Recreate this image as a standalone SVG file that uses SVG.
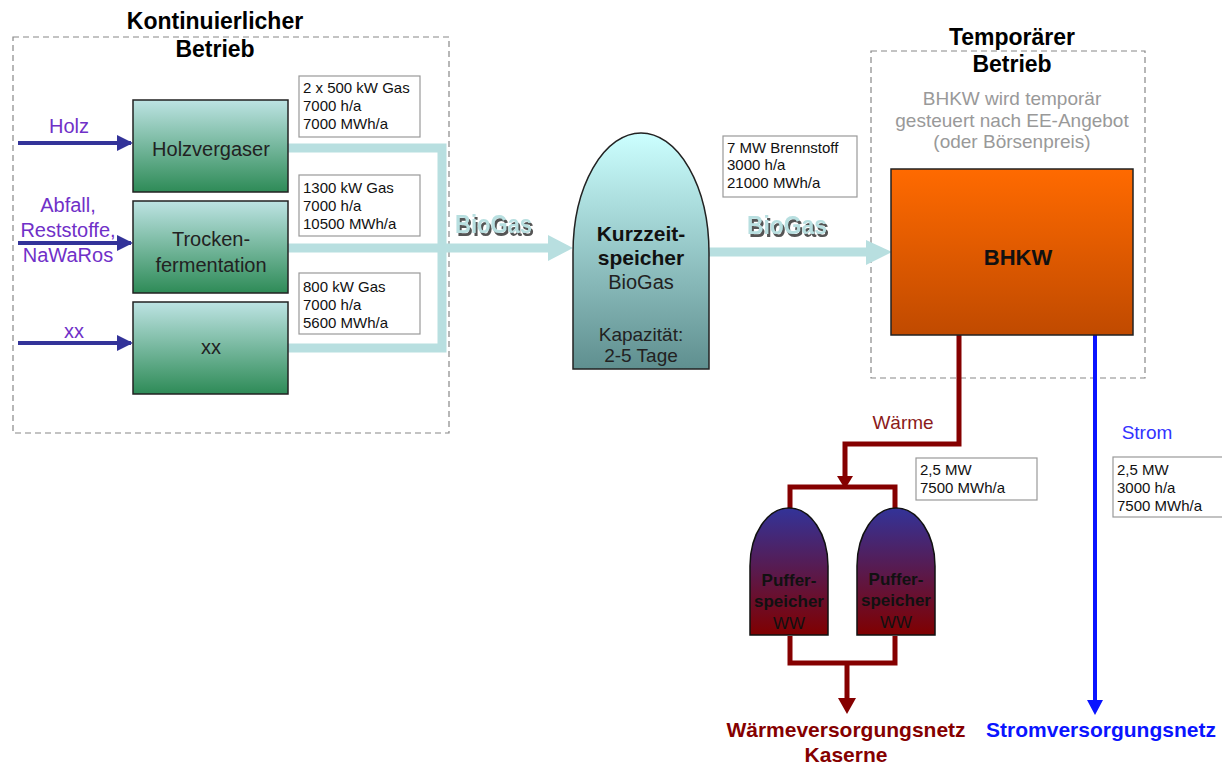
<svg xmlns="http://www.w3.org/2000/svg" width="1222" height="766" viewBox="0 0 1222 766">
<defs>
<linearGradient id="gGreen" x1="0" y1="0" x2="0" y2="1"><stop offset="0" stop-color="#bde3e3"/><stop offset="1" stop-color="#2e8b57"/></linearGradient>
<linearGradient id="gTank" x1="0" y1="0" x2="0" y2="1"><stop offset="0" stop-color="#ccffff"/><stop offset="1" stop-color="#5f8f8f"/></linearGradient>
<linearGradient id="gOrange" x1="0" y1="0" x2="0" y2="1"><stop offset="0" stop-color="#ff6a00"/><stop offset="1" stop-color="#c04a00"/></linearGradient>
<linearGradient id="gPuffer" x1="0" y1="0" x2="0" y2="1"><stop offset="0" stop-color="#333399"/><stop offset="1" stop-color="#800000"/></linearGradient>
<marker id="mBlue" markerWidth="4" markerHeight="4" refX="3.5" refY="2" orient="auto" markerUnits="strokeWidth"><path d="M0,0 L4,2 L0,4 Z" fill="#333399"/></marker>
<filter id="shadow" x="-10%" y="-20%" width="130%" height="150%">
<feFlood flood-color="#555555" result="c"/>
<feComposite in="c" in2="SourceAlpha" operator="in" result="s"/>
<feOffset in="s" dx="2" dy="3" result="o"/>
<feMerge><feMergeNode in="o"/><feMergeNode in="SourceGraphic"/></feMerge>
</filter>
</defs>
<style>
text{font-family:"Liberation Sans",Arial,sans-serif}
.dash{fill:none;stroke:#888;stroke-width:1.2;stroke-dasharray:6 4}
.title{font-size:23px;font-weight:bold;fill:#000;text-anchor:middle}
.box{stroke:#222;stroke-width:1.5;fill:url(#gGreen)}
.blbl{font-size:20px;fill:#222;text-anchor:middle}
.in{font-size:20px;fill:#7030c8;text-anchor:middle}
.info{fill:#fff;stroke:#999;stroke-width:1.2}
.itxt{font-size:15px;fill:#111}
.pipe{fill:none;stroke:#b8dfe0;stroke-width:9}
.heat{fill:none;stroke:#850000;stroke-width:5}
.bg{font-size:25px;font-weight:bold;fill:#b8dfe0;filter:url(#shadow)}
.pf{font-size:17px;text-anchor:middle;fill:#111}
</style>

<rect class="dash" x="13" y="37" width="436" height="396"/>
<text class="title" x="215" y="29">Kontinuierlicher</text>
<text class="title" x="215" y="57">Betrieb</text>

<rect class="dash" x="871" y="51" width="274" height="327"/>
<text class="title" x="1012" y="45">Temporärer</text>
<text class="title" x="1012" y="72">Betrieb</text>
<g fill="#999" font-size="19" text-anchor="middle">
<text x="1012" y="105">BHKW wird temporär</text>
<text x="1012" y="127">gesteuert nach EE-Angebot</text>
<text x="1012" y="148">(oder Börsenpreis)</text>
</g>

<g id="connectors">
<path class="pipe" d="M288,148 H442 V348 H288"/>
<path class="pipe" d="M288,248 H550"/>
<polygon points="548,235 573,248 548,261" fill="#b8dfe0"/>
<path class="pipe" d="M709,252 H868"/>
<polygon points="866,240 892,252 866,265" fill="#b8dfe0"/>
<g stroke="#333399" stroke-width="4" fill="none">
<path d="M18,143 H131" marker-end="url(#mBlue)"/>
<path d="M18,243 H131" marker-end="url(#mBlue)"/>
<path d="M18,343 H131" marker-end="url(#mBlue)"/>
</g>
<path class="heat" d="M959,335 V444 H845 V478"/>
<polygon points="837,476 853,476 845,489" fill="#850000"/>
<path class="heat" d="M790,510 V487 H895 V510"/>
<path class="heat" d="M790,636 V663 H895 V636"/>
<path class="heat" d="M847,663 V700"/>
<polygon points="838,698 856,698 847,714" fill="#850000"/>
<path d="M1095,335 V702" stroke="#0a14ff" stroke-width="4" fill="none"/>
<polygon points="1087,700 1103,700 1095,715" fill="#0a14ff"/>
</g>

<g id="biogas-labels">
<text class="bg" x="455" y="233" textLength="77" lengthAdjust="spacingAndGlyphs">BioGas</text>
<text class="bg" x="747" y="234" textLength="80" lengthAdjust="spacingAndGlyphs">BioGas</text>
</g>

<g id="inputs">
<text class="in" x="69" y="133">Holz</text>
<text class="in" x="68" y="212">Abfall,</text>
<text class="in" x="68" y="237">Reststoffe,</text>
<text class="in" x="68" y="262">NaWaRos</text>
<text class="in" x="74" y="338">xx</text>
</g>

<g id="holzvergaser">
<rect class="box" x="133" y="100" width="155" height="92"/>
<text class="blbl" x="211" y="156">Holzvergaser</text>
</g>
<g id="trockenfermentation">
<rect class="box" x="133" y="201" width="155" height="92"/>
<text class="blbl" x="211" y="246">Trocken-</text>
<text class="blbl" x="211" y="272">fermentation</text>
</g>
<g id="xx">
<rect class="box" x="133" y="302" width="155" height="92"/>
<text class="blbl" x="211" y="354">xx</text>
</g>

<g id="info1">
<rect class="info" x="299" y="76" width="121" height="61"/>
<text class="itxt" x="303" y="93">2 x 500 kW Gas</text>
<text class="itxt" x="303" y="111">7000 h/a</text>
<text class="itxt" x="303" y="129">7000 MWh/a</text>
</g>
<g id="info2">
<rect class="info" x="299" y="175" width="121" height="61"/>
<text class="itxt" x="303" y="193">1300 kW Gas</text>
<text class="itxt" x="303" y="211">7000 h/a</text>
<text class="itxt" x="303" y="229">10500 MWh/a</text>
</g>
<g id="info3">
<rect class="info" x="299" y="273" width="121" height="61"/>
<text class="itxt" x="303" y="292">800 kW Gas</text>
<text class="itxt" x="303" y="310">7000 h/a</text>
<text class="itxt" x="303" y="328">5600 MWh/a</text>
</g>

<g id="kurzzeitspeicher">
<path d="M573,369 L573,253 A68,120 0 0 1 709,253 L709,369 Z" fill="url(#gTank)" stroke="#222" stroke-width="1.5"/>
<text x="641" y="241" font-size="21" font-weight="bold" text-anchor="middle" fill="#111">Kurzzeit-</text>
<text x="641" y="265" font-size="21" font-weight="bold" text-anchor="middle" fill="#111">speicher</text>
<text x="641" y="289" font-size="20" text-anchor="middle" fill="#222">BioGas</text>
<text x="641" y="341" font-size="19" text-anchor="middle" fill="#222">Kapazität:</text>
<text x="641" y="362" font-size="19" text-anchor="middle" fill="#222">2-5 Tage</text>
</g>

<g id="info4">
<rect class="info" x="723" y="136" width="134" height="61"/>
<text class="itxt" x="727" y="153">7 MW Brennstoff</text>
<text class="itxt" x="727" y="170">3000 h/a</text>
<text class="itxt" x="727" y="188">21000 MWh/a</text>
</g>

<g id="bhkw">
<rect x="891" y="169" width="242" height="166" fill="url(#gOrange)" stroke="#222" stroke-width="1.5"/>
<text x="1018" y="265" font-size="22" font-weight="bold" text-anchor="middle" fill="#111">BHKW</text>
</g>

<text x="903" y="429" font-size="19" text-anchor="middle" fill="#8b1a1a">Wärme</text>
<text x="1147" y="439" font-size="19" text-anchor="middle" fill="#3333ff">Strom</text>

<g id="info5">
<rect class="info" x="916" y="458" width="121" height="42"/>
<text class="itxt" x="920" y="475">2,5 MW</text>
<text class="itxt" x="920" y="493">7500 MWh/a</text>
</g>
<g id="info6">
<rect class="info" x="1113" y="457" width="112" height="60"/>
<text class="itxt" x="1117" y="475">2,5 MW</text>
<text class="itxt" x="1117" y="493">3000 h/a</text>
<text class="itxt" x="1117" y="511">7500 MWh/a</text>
</g>

<g id="puffer1">
<path d="M750,635 L750,566 A39,58 0 0 1 828,566 L828,635 Z" fill="url(#gPuffer)" stroke="#111" stroke-width="1.5"/>
<text class="pf" x="789" y="586" font-weight="bold">Puffer-</text>
<text class="pf" x="789" y="607" font-weight="bold">speicher</text>
<text class="pf" x="789" y="629">WW</text>
</g>
<g id="puffer2">
<path d="M857,635 L857,566 A39,58 0 0 1 935,566 L935,635 Z" fill="url(#gPuffer)" stroke="#111" stroke-width="1.5"/>
<text class="pf" x="896" y="585" font-weight="bold">Puffer-</text>
<text class="pf" x="896" y="606" font-weight="bold">speicher</text>
<text class="pf" x="896" y="628">WW</text>
</g>

<g font-size="21" font-weight="bold" text-anchor="middle">
<text x="846" y="737" fill="#850000">Wärmeversorgungsnetz</text>
<text x="846" y="762" fill="#850000">Kaserne</text>
<text x="1101" y="737" fill="#0a14ff">Stromversorgungsnetz</text>
</g>
</svg>
